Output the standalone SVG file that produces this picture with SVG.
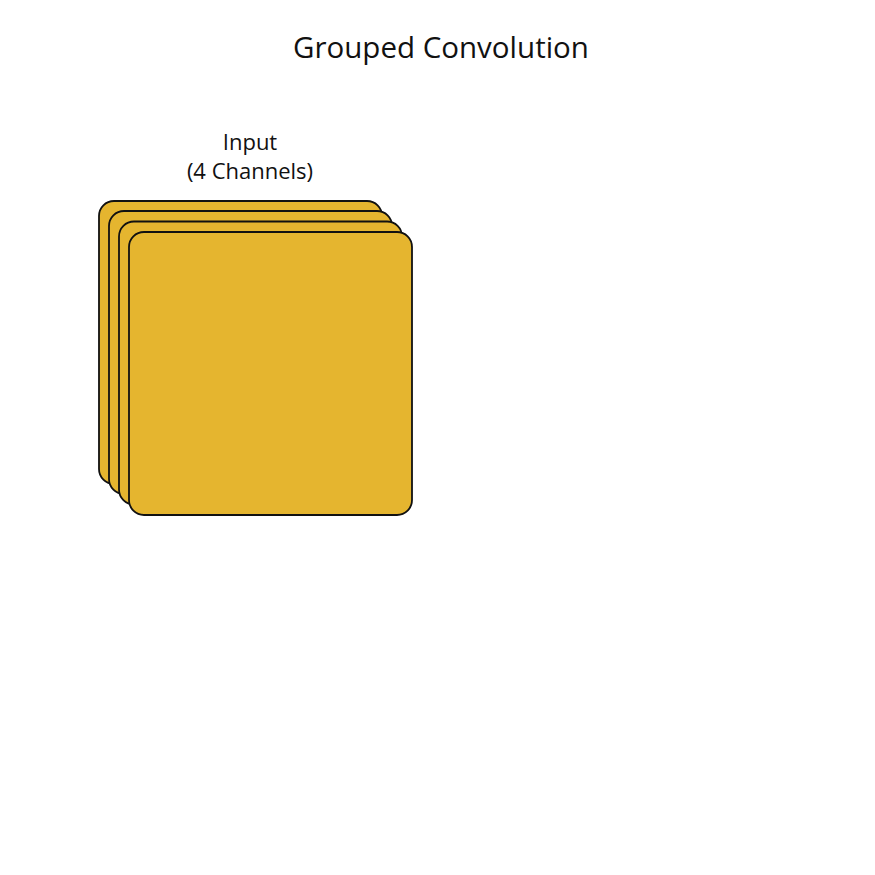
<svg xmlns="http://www.w3.org/2000/svg" width="875" height="875" viewBox="0 0 875 875">
<style>
.t{font-family:"Open Sans","Noto Sans",sans-serif;fill:#111;text-anchor:middle}
.ch{fill:#E5B52F;stroke:#111;stroke-width:1.8}
</style>
<rect width="875" height="875" fill="#fff"/>
<text class="t" x="441" y="58" font-size="29.5">Grouped Convolution</text>
<g id="input">
<text class="t" x="250" y="150" font-size="22">Input</text>
<text class="t" x="250" y="179" font-size="22">(4 Channels)</text>
<rect class="ch" x="99" y="201" width="283" height="283" rx="15"/>
<rect class="ch" x="109" y="211" width="283" height="283" rx="15"/>
<rect class="ch" x="119" y="221.5" width="283" height="283" rx="15"/>
<rect class="ch" x="129" y="232" width="283" height="283" rx="15"/>
</g>
</svg>
